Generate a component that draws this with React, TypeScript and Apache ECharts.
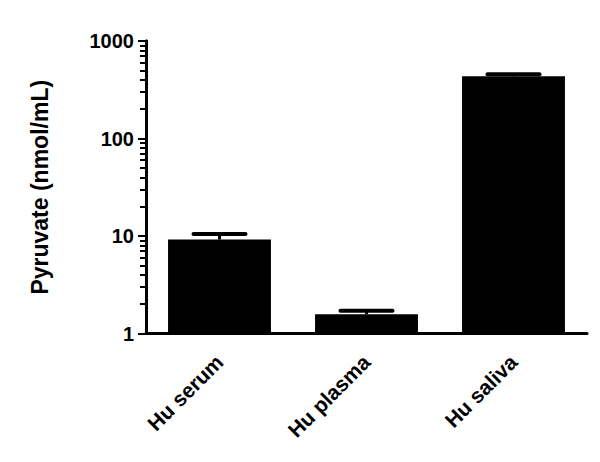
import React, { useEffect, useRef } from "react";
import * as echarts from "echarts";

const categories = ["Hu serum", "Hu plasma", "Hu saliva"];
const means = [9.2, 1.58, 435];
const upperErrors = [10.5, 1.71, 456];
const majorTicks = [1, 10, 100, 1000];
const minorSteps = [2, 3, 4, 5, 6, 7, 8, 9];

const FONT = "Arial, 'Liberation Sans', sans-serif";

// minor ticks for the log axis, expressed in log10 space for the helper axis
const minorTickLogs: number[] = [];
majorTicks.slice(0, -1).forEach((decade) => {
  minorSteps.forEach((s) => minorTickLogs.push(Math.log10(decade * s)));
});

const App: React.FC = () => {
  const chartRef = useRef<HTMLDivElement>(null);

  useEffect(() => {
    if (!chartRef.current) return;
    document.body.style.margin = "0";
    const chart = echarts.init(chartRef.current, undefined, { renderer: "svg" });

    const option: echarts.EChartsOption = {
      animation: false,
      backgroundColor: "#ffffff",
      grid: { left: 146, right: 13, top: 41, bottom: 128.5 },
      xAxis: {
        type: "category",
        data: categories,
        axisLine: { lineStyle: { color: "#000", width: 3 } },
        axisTick: {
          alignWithLabel: true,
          length: 9,
          lineStyle: { color: "#000", width: 2 },
        },
        axisLabel: {
          rotate: 45,
          margin: 25,
          color: "#000",
          fontFamily: FONT,
          fontWeight: "bold",
          fontSize: 21,
        },
      },
      yAxis: [
        {
          type: "log",
          logBase: 10,
          min: 1,
          max: 1000,
          name: "Pyruvate (nmol/mL)",
          nameLocation: "middle",
          nameGap: 95,
          nameTextStyle: {
            color: "#000",
            fontFamily: FONT,
            fontWeight: "bold",
            fontSize: 23,
          },
          axisLine: { show: true, lineStyle: { color: "#000", width: 3 } },
          axisTick: { show: true, length: 8, lineStyle: { color: "#000", width: 2 } },
          axisLabel: {
            margin: 12,
            color: "#000",
            fontFamily: FONT,
            fontWeight: "bold",
            fontSize: 20,
            formatter: (v: number) => String(v),
          },
          splitLine: { show: false },
        },
        {
          type: "value",
          min: 0,
          max: 3,
          position: "left",
          offset: 0,
          axisLine: { show: true, lineStyle: { color: "#000", width: 3 } },
          axisLabel: { show: false },
          splitLine: { show: false },
          axisTick: {
            show: true,
            length: 6,
            customValues: minorTickLogs,
            lineStyle: { color: "#000", width: 2 },
          },
        },
      ],
      series: [
        {
          type: "bar",
          data: means,
          barCategoryGap: "30%",
          itemStyle: { color: "#000" },
          z: 2,
        },
        {
          type: "custom",
          data: categories.map((_, i) => [i, means[i], upperErrors[i]]),
          z: 3,
          renderItem: (params: any, api: any) => {
            const base = api.coord([api.value(0), api.value(1)]);
            const top = api.coord([api.value(0), api.value(2)]);
            const half = 26;
            const style = { stroke: "#000", lineWidth: 4, lineCap: "round" };
            return {
              type: "group",
              children: [
                {
                  type: "line",
                  shape: { x1: base[0], y1: base[1], x2: top[0], y2: top[1] },
                  style: { stroke: "#000", lineWidth: 3 },
                },
                {
                  type: "line",
                  shape: { x1: top[0] - half, y1: top[1], x2: top[0] + half, y2: top[1] },
                  style,
                },
              ],
            };
          },
        },
      ],
    };

    chart.setOption(option);
    return () => chart.dispose();
  }, []);

  return <div ref={chartRef} style={{ width: 600, height: 462 }} />;
};

export default App;
